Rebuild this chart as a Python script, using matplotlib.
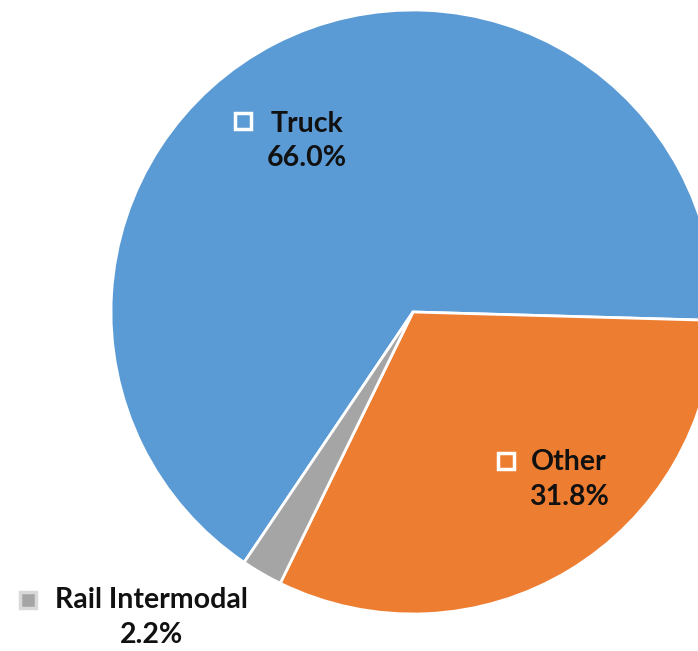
import matplotlib.pyplot as plt
from matplotlib.patches import Rectangle

# === Daten ===
labels = ["Truck", "Other", "Rail Intermodal"]
shares = [66.0, 31.8, 2.2]
colors = ["#5B9BD5", "#ED7D31", "#A5A5A5"]

# Label-Positionen (Datenkoordinaten, Radius = 1)
label_pos = [(-0.35, 0.566), (0.517, -0.555), (-0.865, -1.012)]
key_pos = [(-0.563, 0.632), (0.308, -0.493), (-1.275, -0.954)]
key_fill = ["none", "none", "#A5A5A5"]
key_edge = ["white", "white", "#D9D9D9"]

plt.rcParams['font.family'] = ['Lato', 'DejaVu Sans']

fig = plt.figure(figsize=(6.98, 6.51), dpi=100)
ax = fig.add_axes([111 / 698, 37 / 651, 604 / 698, 604 / 651])

ax.pie(shares, colors=colors, startangle=236, counterclock=False, radius=1,
       wedgeprops=dict(edgecolor="white", linewidth=2))
ax.set_xlim(-1, 1)
ax.set_ylim(-1, 1)
ax.set_aspect("equal")
ax.axis("off")

# === Beschriftungen ===
for name, val, (x, y), (kx, ky), fc, ec in zip(labels, shares, label_pos, key_pos, key_fill, key_edge):
    ax.text(x, y, f"{name}\n{val:.1f}%", ha="center", va="center", ma="center",
            fontsize=20.5, fontweight="bold", color="#111111", linespacing=1.42,
            clip_on=False)
    s = 0.055
    ax.add_patch(Rectangle((kx - s / 2, ky - s / 2), s, s, facecolor=fc,
                           edgecolor=ec, linewidth=2.5, clip_on=False))

fig.savefig("out.png", dpi=100)
